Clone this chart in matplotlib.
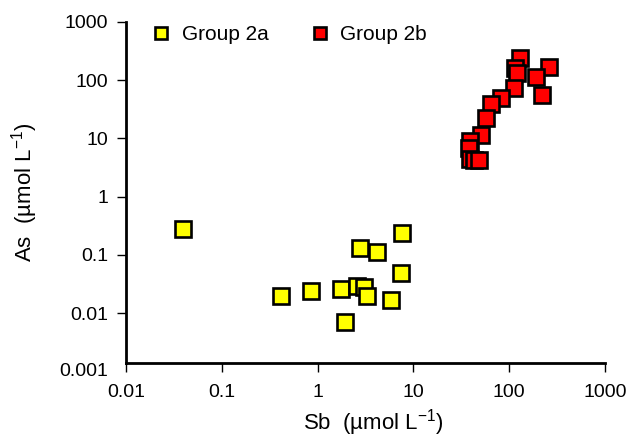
import matplotlib.pyplot as plt
from matplotlib.ticker import FixedLocator, FixedFormatter, NullLocator
import matplotlib.transforms as mtransforms

plt.rcParams['font.family'] = ['Liberation Sans', 'DejaVu Sans']

# Group 2a (yellow)
sb_2a = [0.039, 0.41, 0.85, 1.76, 1.92, 2.74, 2.59, 3.05, 3.24, 4.19, 7.65, 7.35, 5.78]
as_2a = [0.278, 0.0197, 0.024, 0.0257, 0.007, 0.133, 0.0296, 0.0285, 0.0197, 0.111, 0.24, 0.0495, 0.0168]

# Group 2b (red)
sb_2b = [130, 261, 114.5, 122, 190, 112, 218, 81.7, 65.3, 56.9, 51.3, 39, 38, 39, 43, 48.4]
as_2b = [236, 169, 159, 130, 114, 72, 55, 48.5, 38.7, 22, 11.4, 9.1, 6.7, 4.5, 4.25, 4.25]

xticks = [0.01, 0.1, 1, 10, 100, 1000]
xlabels = ["0.01", "0.1", "1", "10", "100", "1000"]
yticks = [0.01, 0.1, 1, 10, 100, 1000]
ylabels = ["0.01", "0.1", "1", "10", "100", "1000"]

fig = plt.figure(figsize=(6.33, 4.36), dpi=100)
ax = fig.add_axes([0.1991, 0.1674, 0.7567, 0.7828])

ax.plot(sb_2a, as_2a, 's', ms=11.5, mfc='#ffff00', mec='black', mew=1.9, label='Group 2a', clip_on=False)
ax.plot(sb_2b, as_2b, 's', ms=11.5, mfc='#ff0000', mec='black', mew=1.9, label='Group 2b', clip_on=False)

ax.set_xscale('log')
ax.set_yscale('log')
ax.set_xlim(0.01, 1000)
ax.set_ylim(0.0014, 1000)
ax.xaxis.set_major_locator(FixedLocator(xticks))
ax.xaxis.set_major_formatter(FixedFormatter(xlabels))
ax.yaxis.set_major_locator(FixedLocator(yticks))
ax.yaxis.set_major_formatter(FixedFormatter(ylabels))
ax.xaxis.set_minor_locator(NullLocator())
ax.yaxis.set_minor_locator(NullLocator())

for s in ['top', 'right']:
    ax.spines[s].set_visible(False)
for s in ['left', 'bottom']:
    ax.spines[s].set_linewidth(2.0)
ax.tick_params(axis='both', direction='out', length=6.5, width=1.0, labelsize=14)
ax.tick_params(axis='x', pad=8.5)
ax.tick_params(axis='y', pad=6.5)

# bottom y label sits just below the x axis line
trans = mtransforms.blended_transform_factory(ax.transAxes, ax.transData)
ax.annotate("0.001", xy=(0, 0.001), xycoords=trans, xytext=(-13, 0),
            textcoords='offset points', ha='right', va='center', fontsize=14,
            annotation_clip=False)

ax.set_xlabel("Sb  (µmol L$^{\\mathregular{-1}}$)", fontsize=16, va='center')
ax.set_ylabel("As  (µmol L$^{\\mathregular{-1}}$)", fontsize=16, va='center')
ax.xaxis.set_label_coords(0.517, -0.173)
ax.yaxis.set_label_coords(-0.211, 0.5)

ax.legend(loc='center left', ncol=2, frameon=False, fontsize=15, markerscale=0.75,
          handlelength=1.0, handletextpad=0.5, columnspacing=1.95,
          borderpad=0, borderaxespad=0,
          bbox_to_anchor=(150.6 / 633, 1 - 35 / 436), bbox_transform=fig.transFigure)

fig.savefig('out.png', dpi=100)
